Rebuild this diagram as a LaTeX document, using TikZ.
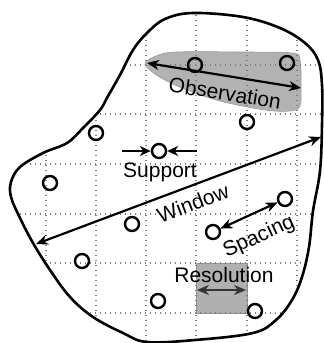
\documentclass[tikz,border=0pt]{standalone}
\usepackage{fontspec}
\setmainfont{Liberation Sans}
\usetikzlibrary{arrows.meta}
\begin{document}
\begin{tikzpicture}[x=1pt,y=-1pt,
  dot/.style={circle,draw,line width=2.4pt,minimum size=14pt,inner sep=0pt},
  lbl/.style={font=\fontsize{21}{24}\selectfont,inner sep=0pt},
  gridline/.style={gray,line width=1.3pt,dash pattern=on 1.4pt off 3.6pt},
  twoarr/.style={line width=2.2pt,{Stealth[length=12pt,width=10pt]}-{Stealth[length=12pt,width=10pt]}},
  onearr/.style={line width=2.2pt,-{Stealth[length=11pt,width=10pt]}}]
\useasboundingbox (0,0) rectangle (324,343);
% observation blob
\fill[gray!60,draw=gray!80,line width=0.6pt] plot[smooth cycle,tension=0.55] coordinates {
 (145,64) (156,56) (176,52) (240,52) (292,53) (300,60) (301,85) (300,106) (290,111)
 (265,110) (220,101) (182,88) (158,76)};
% resolution cell
\filldraw[fill=gray!62,draw=gray!85,line width=0.8pt] (196,263) rectangle (247,313);
% grid clipped to region
\begin{scope}
\clip plot[smooth cycle,tension=0.6] coordinates {
 (165,19) (193,13) (243,17) (280,28) (305,43) (318,60) (322,85) (322,125) (320,171)
 (313,211) (309,247) (302,277) (292,300) (276,320) (253,333) (195,340) (147,342)
 (123,333) (93,317) (70,297) (50,270) (33,243) (20,218) (11,197) (11,182) (20,167)
 (43,153) (67,143) (83,128) (100,110) (108,96) (120,75) (133,50) (147,33)};
\foreach \gx in {46,96,146,196,247,297} \draw[gridline] (\gx,0) -- (\gx,343);
\foreach \gy in {65,114,164,214,263,313} \draw[gridline] (0,\gy) -- (324,\gy);
\end{scope}
% region outline
\draw[line width=2.6pt,line join=round] plot[smooth cycle,tension=0.6] coordinates {
 (165,19) (193,13) (243,17) (280,28) (305,43) (318,60) (322,85) (322,125) (320,171)
 (313,211) (309,247) (302,277) (292,300) (276,320) (253,333) (195,340) (147,342)
 (123,333) (93,317) (70,297) (50,270) (33,243) (20,218) (11,197) (11,182) (20,167)
 (43,153) (67,143) (83,128) (100,110) (108,96) (120,75) (133,50) (147,33)};
% sample points
\node[dot] (c1) at (195,65) {};
\node[dot] (c2) at (287,63) {};
\node[dot] (c3) at (247,122) {};
\node[dot] (c4) at (96,133) {};
\node[dot] (c5) at (159,151) {};
\node[dot] (c6) at (50,183) {};
\node[dot] (c7) at (132,224) {};
\node[dot] (c8) at (82,261) {};
\node[dot] (c9) at (213,232) {};
\node[dot] (c10) at (285,199) {};
\node[dot] (c11) at (158,301) {};
\node[dot] (c12) at (255,311) {};
% coordinates for free arrow ends
\coordinate (ol) at (147,63);
\coordinate (or) at (301,88);
\coordinate (wl) at (36,244);
\coordinate (wr) at (321,137);
\coordinate (sl) at (122,151);
\coordinate (sr) at (197,151);
\coordinate (rl) at (197,290);
\coordinate (rr) at (246,290);
% arrows
\draw[twoarr] (ol) -- (or);
\draw[twoarr] (wl) -- (wr);
\draw[onearr] (sl) -- (c5);
\draw[onearr] (sr) -- (c5);
\draw[twoarr,black!80] (rl) -- (rr);
\draw[twoarr] (c9) -- (c10);
% labels
\node[lbl,rotate=-9] (tobs) at (225,93) {Observation};
\node[lbl,anchor=base] (tsup) at (160,177) {Support};
\node[lbl,rotate=20.7] (twin) at (193,203) {Window};
\node[lbl,rotate=24.6] (tspa) at (259,237) {Spacing};
\node[lbl,anchor=base] (tres) at (224,282) {Resolution};
\end{tikzpicture}
\end{document}
